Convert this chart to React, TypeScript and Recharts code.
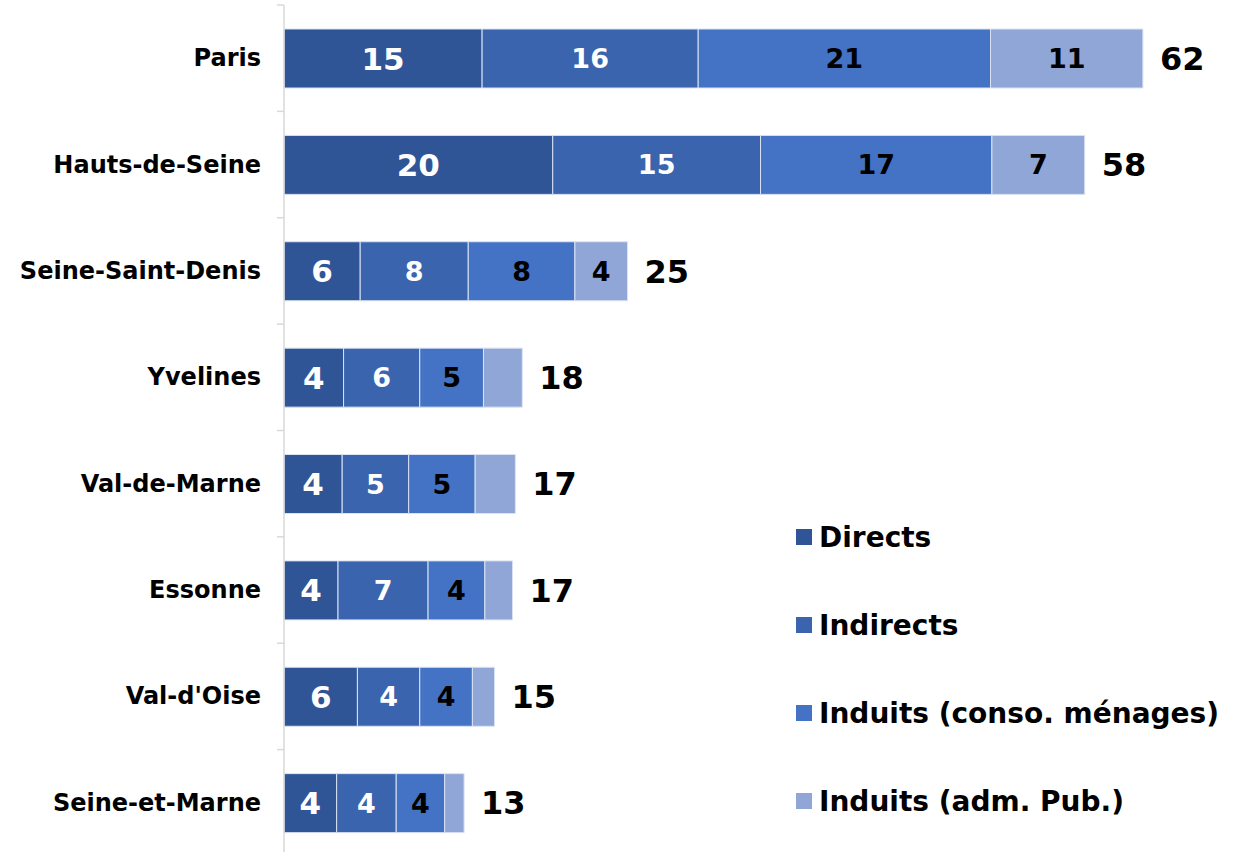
import { BarChart, Bar, XAxis, YAxis, Legend, LabelList } from "recharts";

const categories = ["Paris", "Hauts-de-Seine", "Seine-Saint-Denis", "Yvelines", "Val-de-Marne", "Essonne", "Val-d'Oise", "Seine-et-Marne"];

// bar lengths as measured
const directs = [14.3, 19.4, 5.5, 4.3, 4.2, 3.9, 5.3, 3.8];
const indirects = [15.6, 15.0, 7.8, 5.5, 4.8, 6.5, 4.5, 4.3];
const induitsConso = [21.1, 16.7, 7.7, 4.6, 4.8, 4.1, 3.8, 3.5];
const induitsAdm = [11.0, 6.7, 3.8, 2.8, 2.9, 2.0, 1.6, 1.4];

// labels as printed on the chart
const directsLabels = [15, 20, 6, 4, 4, 4, 6, 4];
const indirectsLabels = [16, 15, 8, 6, 5, 7, 4, 4];
const consoLabels = [21, 17, 8, 5, 5, 4, 4, 4];
const admLabels = [11, 7, 4, null, null, null, null, null];
const totals = [62, 58, 25, 18, 17, 17, 15, 13];

const SERIES = [
  { key: "directs", name: "Directs", color: "#2F5597" },
  { key: "indirects", name: "Indirects", color: "#3A64AD" },
  { key: "conso", name: "Induits (conso. ménages)", color: "#4472C4" },
  { key: "adm", name: "Induits (adm. Pub.)", color: "#8FA6D6" },
];

const FONT = "'DejaVu Sans', Verdana, sans-serif";
const W = 1247;
const H = 860;
const TOP = 5;
const BOTTOM = 4;
const BAND = (H - TOP - BOTTOM) / categories.length;

const data = categories.map((c, i) => ({
  name: c,
  directs: directs[i],
  indirects: indirects[i],
  conso: induitsConso[i],
  adm: induitsAdm[i],
  directsLabel: directsLabels[i],
  indirectsLabel: indirectsLabels[i],
  consoLabel: consoLabels[i],
  admLabel: admLabels[i],
  total: totals[i],
}));

function CategoryTick(props: any) {
  const { x, y, payload } = props;
  const by = y - BAND / 2;
  return (
    <g>
      <line x1={x - 7} x2={x} y1={by} y2={by} stroke="#d9d9d9" strokeWidth={1.5} />
      <text x={x - 23} y={y} textAnchor="end" dominantBaseline="central" fontFamily={FONT} fontWeight="bold" fontSize={24} fill="#000">
        {payload.value}
      </text>
    </g>
  );
}

function LegendBox() {
  return (
    <div style={{ fontFamily: FONT, fontWeight: "bold", fontSize: 28, color: "#000" }}>
      {SERIES.map((s) => (
        <div key={s.key} style={{ display: "flex", alignItems: "center", height: 88 }}>
          <span style={{ width: 16, height: 16, background: s.color, display: "inline-block", marginRight: 7 }} />
          <span>{s.name}</span>
        </div>
      ))}
    </div>
  );
}

const fmt = (v: any) => (v === null || v === undefined ? "" : String(v));

export default function App() {
  return (
    <div style={{ position: "fixed", left: 0, top: 0, width: W, height: 852, overflow: "hidden", background: "#fff" }}>
      <BarChart width={W} height={H} data={data} layout="vertical" margin={{ top: TOP, right: 21, bottom: BOTTOM, left: 0 }} barSize={59}>
        <XAxis type="number" hide domain={[0, 68]} />
        <YAxis
          type="category"
          dataKey="name"
          width={284}
          axisLine={{ stroke: "#d9d9d9", strokeWidth: 1.5 }}
          tickLine={false}
          tickSize={0}
          tickMargin={0}
          tick={<CategoryTick />}
          interval={0}
        />
        <Legend
          layout="vertical"
          align="center"
          verticalAlign="middle"
          content={<LegendBox />}
          wrapperStyle={{ position: "absolute", left: 796, top: 493, width: 450 }}
        />
        <Bar dataKey="directs" name="Directs" stackId="a" fill={SERIES[0].color} stroke="#dae3f3" strokeWidth={1} isAnimationActive={false}>
          <LabelList dataKey="directsLabel" position="center" formatter={fmt} fill="#fff" fontFamily={FONT} fontWeight="bold" fontSize={31} />
        </Bar>
        <Bar dataKey="indirects" name="Indirects" stackId="a" fill={SERIES[1].color} stroke="#dae3f3" strokeWidth={1} isAnimationActive={false}>
          <LabelList dataKey="indirectsLabel" position="center" formatter={fmt} fill="#fff" fontFamily={FONT} fontWeight="bold" fontSize={27} />
        </Bar>
        <Bar dataKey="conso" name="Induits (conso. ménages)" stackId="a" fill={SERIES[2].color} stroke="#dae3f3" strokeWidth={1} isAnimationActive={false}>
          <LabelList dataKey="consoLabel" position="center" formatter={fmt} fill="#000" fontFamily={FONT} fontWeight="bold" fontSize={27} />
        </Bar>
        <Bar dataKey="adm" name="Induits (adm. Pub.)" stackId="a" fill={SERIES[3].color} stroke="#dae3f3" strokeWidth={1} isAnimationActive={false}>
          <LabelList dataKey="admLabel" position="center" formatter={fmt} fill="#000" fontFamily={FONT} fontWeight="bold" fontSize={27} />
          <LabelList dataKey="total" position="right" offset={17} fill="#000" fontFamily={FONT} fontWeight="bold" fontSize={32} />
        </Bar>
      </BarChart>
    </div>
  );
}
